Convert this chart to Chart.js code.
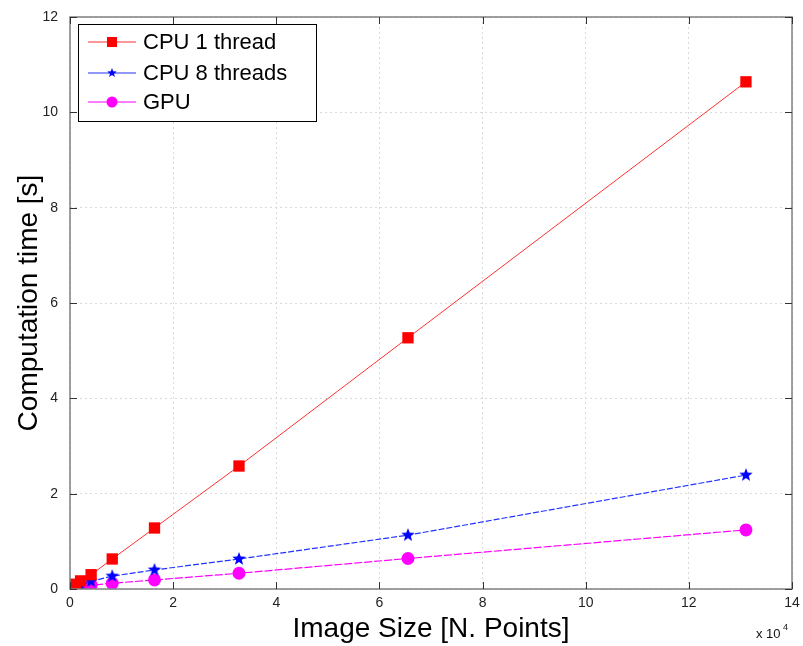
<!DOCTYPE html>
<html><head><meta charset="utf-8">
<script src="https://cdn.jsdelivr.net/npm/chart.js@4"></script>
<style>html,body{margin:0;padding:0;background:#fff}#wrap{width:803px;height:646px}</style>
</head><body><div id="wrap"><canvas id="c" width="803" height="646"></canvas></div>
<script>
const imageSize = [0.1024, 0.2048, 0.4096, 0.8192, 1.6384, 3.2768, 6.5536, 13.1072];
const cpu1 = [0.10, 0.17, 0.30, 0.63, 1.28, 2.58, 5.27, 10.64];
const cpu8 = [0.05, 0.08, 0.16, 0.27, 0.40, 0.63, 1.13, 2.39];
const gpu  = [0.04, 0.05, 0.08, 0.12, 0.19, 0.33, 0.64, 1.24];
const seriesLabels = ['CPU 1 thread', 'CPU 8 threads', 'GPU'];
const xTicks = [0, 2, 4, 6, 8, 10, 12, 14];
const yTicks = [0, 2, 4, 6, 8, 10, 12];

function starImg(r, color) {
  const c = document.createElement('canvas');
  c.width = c.height = Math.ceil(r * 2 + 2);
  const g = c.getContext('2d');
  const cx = c.width / 2, cy = c.height / 2;
  g.beginPath();
  for (let i = 0; i < 10; i++) {
    const rr = i % 2 === 0 ? r : r * 0.42;
    const a = -Math.PI / 2 + i * Math.PI / 5;
    const px = cx + rr * Math.cos(a), py = cy + rr * Math.sin(a);
    i ? g.lineTo(px, py) : g.moveTo(px, py);
  }
  g.closePath(); g.fillStyle = color; g.fill();
  return c;
}
const star = starImg(7, '#0000ff');
const pts = (ys) => imageSize.map((x, i) => ({x, y: ys[i]}));

const FONT = '"Liberation Sans", Arial, sans-serif';

const framePlugin = {
  id: 'frame',
  afterDraw(chart) {
    const {ctx, chartArea: a, scales: {x, y}} = chart;
    ctx.save();
    ctx.strokeStyle = '#808080'; ctx.lineWidth = 1.5; ctx.setLineDash([]);
    ctx.strokeRect(a.left, a.top, a.right - a.left, a.bottom - a.top);
    ctx.strokeStyle = '#333'; ctx.lineWidth = 1;
    xTicks.forEach(v => { const px = Math.round(x.getPixelForValue(v)) + 0.5;
      ctx.beginPath(); ctx.moveTo(px, a.bottom); ctx.lineTo(px, a.bottom - 7);
      ctx.moveTo(px, a.top); ctx.lineTo(px, a.top + 7); ctx.stroke(); });
    yTicks.forEach(v => { const py = Math.round(y.getPixelForValue(v)) + 0.5;
      ctx.beginPath(); ctx.moveTo(a.left, py); ctx.lineTo(a.left + 7, py);
      ctx.moveTo(a.right, py); ctx.lineTo(a.right - 7, py); ctx.stroke(); });
    ctx.fillStyle = '#111'; ctx.font = '13px ' + FONT; ctx.textBaseline = 'alphabetic';
    ctx.textAlign = 'left';
    ctx.fillText('x 10', 756, 638);
    ctx.font = '9px ' + FONT; ctx.fillText('4', 783, 630);
    const lx = 78, ly = 24, lw = 238, lh = 97;
    ctx.fillStyle = '#fff'; ctx.fillRect(lx, ly, lw, lh);
    ctx.strokeStyle = '#000'; ctx.lineWidth = 1; ctx.strokeRect(lx + 0.5, ly + 0.5, lw, lh);
    const rows = [42, 73, 102];
    chart.data.datasets.forEach((ds, i) => {
      const yy = rows[i];
      ctx.strokeStyle = ds.borderColor; ctx.lineWidth = 1;
      ctx.beginPath(); ctx.moveTo(88, yy); ctx.lineTo(136, yy); ctx.stroke();
      if (ds.pointStyle === 'rect') { ctx.fillStyle = ds.pointBackgroundColor; ctx.fillRect(107, yy - 5, 10, 10); }
      else if (ds.pointStyle === 'circle') { ctx.fillStyle = ds.pointBackgroundColor; ctx.beginPath(); ctx.arc(112, yy, 5.5, 0, Math.PI * 2); ctx.fill(); }
      else { ctx.drawImage(starImg(5, '#0000ff'), 112 - 6, yy - 6); }
      ctx.fillStyle = '#000'; ctx.font = '22px ' + FONT; ctx.textAlign = 'left'; ctx.textBaseline = 'middle';
      ctx.fillText(ds.label, 143, yy + 1);
    });
    ctx.restore();
  }
};

new Chart(document.getElementById('c'), {
  type: 'scatter',
  data: { datasets: [
    { label: seriesLabels[0], data: pts(cpu1), showLine: true, borderColor: '#ff3030', borderWidth: 1,
      pointStyle: 'rect', pointRadius: 8, pointBackgroundColor: '#ff0000', pointBorderWidth: 0 },
    { label: seriesLabels[1], data: pts(cpu8), showLine: true, borderColor: '#2233ff', borderWidth: 1.2, borderDash: [6, 2],
      pointStyle: star, pointBackgroundColor: '#0000ff', pointBorderWidth: 0 },
    { label: seriesLabels[2], data: pts(gpu), showLine: true, borderColor: '#ff00ff', borderWidth: 1.2, borderDash: [8, 2],
      pointStyle: 'circle', pointRadius: 6.5, pointBackgroundColor: '#ff00ff', pointBorderWidth: 0 }
  ]},
  options: {
    responsive: false, animation: false, devicePixelRatio: 1,
    layout: { padding: { top: 17, right: 11, left: 12, bottom: 0 } },
    plugins: { legend: { display: false }, tooltip: { enabled: false } },
    scales: {
      x: { type: 'linear', min: 0, max: 14,
        afterBuildTicks: s => { s.ticks = xTicks.map(v => ({value: v})); },
        afterFit: s => { s.height = 57; s.paddingLeft = 0; s.paddingRight = 0; },
        grid: { color: '#dadada', drawTicks: false, lineWidth: 1 },
        border: { display: false, dash: [2, 3] },
        ticks: { color: '#222', font: { size: 14, family: FONT }, padding: 6 },
        title: { display: true, text: 'Image Size [N. Points]', color: '#000', font: { size: 28, family: FONT }, padding: { top: 0, bottom: 0 } } },
      y: { type: 'linear', min: 0, max: 12,
        afterBuildTicks: s => { s.ticks = yTicks.map(v => ({value: v})); },
        afterFit: s => { s.width = 58; s.paddingTop = 0; s.paddingBottom = 0; },
        grid: { color: '#dadada', drawTicks: false, lineWidth: 1 },
        border: { display: false, dash: [2, 3] },
        ticks: { color: '#222', font: { size: 14, family: FONT }, padding: 12 },
        title: { display: true, text: 'Computation time [s]', color: '#000', font: { size: 28, family: FONT }, padding: { top: 0, bottom: 0 } } }
    }
  },
  plugins: [framePlugin]
});
</script></body></html>
